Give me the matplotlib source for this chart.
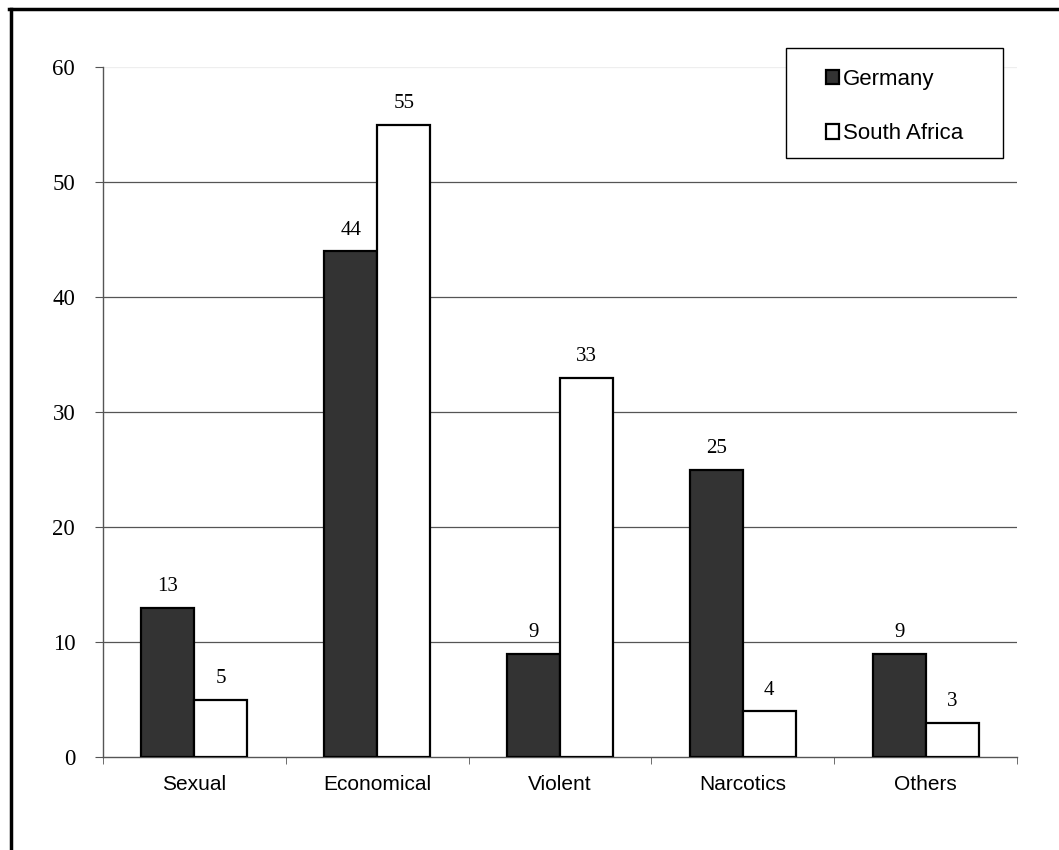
import numpy as np
import matplotlib
matplotlib.use("Agg")
import matplotlib.pyplot as plt
from matplotlib.lines import Line2D
from matplotlib.patches import Rectangle

# data
categories = ["Sexual", "Economical", "Violent", "Narcotics", "Others"]
germany = [13, 44, 9, 25, 9]
south_africa = [5, 55, 33, 4, 3]
series_names = ["Germany", "South Africa"]

fig = plt.figure(figsize=(10.59, 8.5), dpi=100)
ax = fig.add_axes([103/1059, 93/850, 914/1059, 690/850])

x = np.arange(len(categories))
w = 0.29
b1 = ax.bar(x - w/2, germany, w, color="#333333", edgecolor="black", linewidth=1.6,
            label=series_names[0], zorder=3)
b2 = ax.bar(x + w/2, south_africa, w, color="white", edgecolor="black", linewidth=1.6,
            label=series_names[1], zorder=3)

for bars, vals in ((b1, germany), (b2, south_africa)):
    for r, v in zip(bars, vals):
        ax.annotate(str(v), (r.get_x() + r.get_width()/2, v), xytext=(0, 8),
                    textcoords="offset points", ha="center", va="bottom",
                    fontsize=15, family="Liberation Serif")

ax.set_xlim(-0.5, len(categories) - 0.5)
ax.set_ylim(0, 60)
ax.set_yticks(np.arange(0, 61, 10))
ax.set_yticklabels([str(v) for v in range(0, 61, 10)], family="Liberation Serif", fontsize=16.5)
ax.set_xticks(x)
ax.set_xticklabels(categories, family="Liberation Sans", fontsize=15)
ax.set_xticks(np.arange(-0.5, len(categories)), minor=True)
ax.tick_params(axis="x", which="major", length=0, pad=13)
ax.tick_params(axis="x", which="minor", length=5, color="#555555", direction="out")
ax.tick_params(axis="y", length=6, color="#555555", pad=14)

# horizontal grid lines, the top one is barely visible in the original
for yv in range(10, 61, 10):
    ax.axhline(yv, color="#555555" if yv < 60 else "#eeeeee", linewidth=0.9, zorder=0)
for s in ("top", "right"):
    ax.spines[s].set_visible(False)
ax.spines["left"].set_color("#555555")
ax.spines["bottom"].set_color("#555555")
ax.spines["left"].set_linewidth(1.0)
ax.spines["bottom"].set_linewidth(1.0)

# legend box drawn separately, the entries are inset from it
fig.add_artist(Rectangle((786/1059, (850-158)/850), 217/1059, 110/850, transform=fig.transFigure,
                         facecolor="white", edgecolor="black", linewidth=1.0, zorder=4))
leg = fig.legend(handles=[b1, b2], loc="upper left",
                 bbox_to_anchor=(826/1059, (850-69)/850),
                 prop={"family": "Liberation Sans", "size": 16}, frameon=False,
                 borderpad=0, labelspacing=1.5, handlelength=0.6, handleheight=0.6,
                 handletextpad=0.15, borderaxespad=0)
leg.set_zorder(5)

# outer frame of the picture
fig.add_artist(Line2D([9/1059, 1], [1 - 9/850, 1 - 9/850], color="black", linewidth=2.5,
                      transform=fig.transFigure))
fig.add_artist(Line2D([10.5/1059, 10.5/1059], [0, 1 - 9/850], color="black", linewidth=2.5,
                      transform=fig.transFigure))

fig.savefig("out.png", dpi=100)
